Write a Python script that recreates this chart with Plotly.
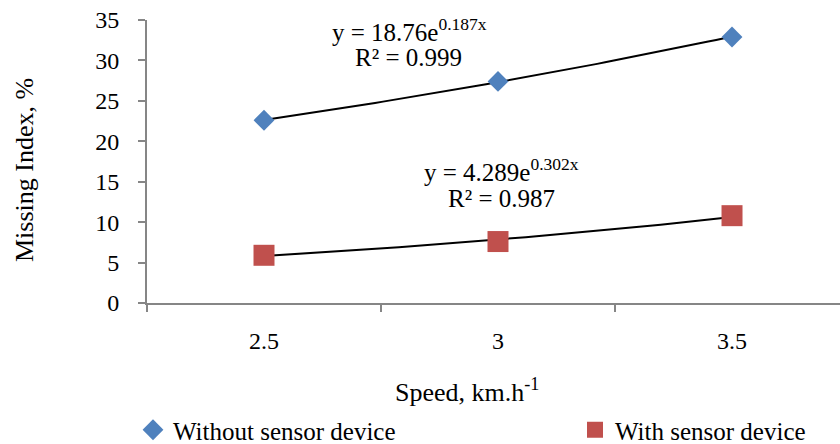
import numpy as np
import plotly.graph_objects as go

speeds = ["2.5", "3", "3.5"]
without_sensor = [22.6, 27.4, 32.9]
with_sensor = [5.9, 7.6, 10.8]
eq_without = ["y = 18.76e<sup>0.187x</sup>", "R² = 0.999"]
eq_with = ["y = 4.289e<sup>0.302x</sup>", "R² = 0.987"]

FONT = "Liberation Serif"
BLUE = "#4F81BD"
RED = "#C0504D"
AXIS = "#868686"

idx = np.arange(len(speeds))  # category positions 0,1,2


def exp_trend(vals):
    n = np.arange(1, len(vals) + 1)
    b, ln_a = np.polyfit(n, np.log(vals), 1)
    t = np.linspace(1, len(vals), 60)
    return t - 1, np.exp(ln_a) * np.exp(b * t)


fig = go.Figure()

for vals in (without_sensor, with_sensor):
    tx, ty = exp_trend(vals)
    fig.add_trace(go.Scatter(x=tx, y=ty, mode="lines",
                             line=dict(color="black", width=2),
                             showlegend=False, hoverinfo="skip"))

fig.add_trace(go.Scatter(x=idx, y=without_sensor, mode="markers",
                         name="Without sensor device", legend="legend",
                         marker=dict(symbol="diamond", size=16, color=BLUE)))
fig.add_trace(go.Scatter(x=idx, y=with_sensor, mode="markers",
                         name="With sensor device", legend="legend2",
                         marker=dict(symbol="square", size=21, color=RED)))

leg_common = dict(orientation="h", xanchor="left", yanchor="middle",
                  font=dict(size=25), itemwidth=30, bgcolor="rgba(0,0,0,0)",
                  xref="paper", yref="paper")

fig.update_layout(
    width=840, height=444,
    margin=dict(l=147, r=0, t=20, b=141, autoexpand=False),
    paper_bgcolor="white", plot_bgcolor="white",
    font=dict(family=FONT, size=24, color="black"),
    showlegend=True,
    legend=dict(x=(133 - 147) / 693, y=(303 - 430) / 283, **leg_common),
    legend2=dict(x=(575 - 147) / 693, y=(303 - 430) / 283, **leg_common),
    xaxis=dict(range=[-0.5, 2.4615], tickmode="array", tickvals=list(idx),
               ticktext=speeds, ticks="", showgrid=False, zeroline=False,
               showline=True, linecolor=AXIS, linewidth=2,
               ticklabelstandoff=15,
               minor=dict(tickmode="array", tickvals=[-0.5, 0.5, 1.5],
                          ticks="outside", ticklen=7, tickcolor=AXIS,
                          tickwidth=2, showgrid=False)),
    yaxis=dict(range=[0, 35], tickmode="linear", tick0=0, dtick=5,
               ticks="outside", ticklen=7, tickcolor=AXIS, tickwidth=2,
               showgrid=False, zeroline=False, showline=True,
               linecolor=AXIS, linewidth=2, ticklabelstandoff=14),
)

annos = [
    dict(x=(409 - 264) / 234, y=(303.3 - 30) / 8.09, text=eq_without[0]),
    dict(x=(408 - 264) / 234, y=(303.3 - 58) / 8.09, text=eq_without[1]),
    dict(x=(501 - 264) / 234, y=(303.3 - 170) / 8.09, text=eq_with[0]),
    dict(x=(501 - 264) / 234, y=(303.3 - 199) / 8.09, text=eq_with[1]),
]
for a in annos:
    fig.add_annotation(x=a["x"], y=a["y"], xref="x", yref="y", text=a["text"],
                       showarrow=False, font=dict(size=25),
                       xanchor="center", yanchor="middle")

fig.add_annotation(x=(24 - 147) / 693, y=(303 - 170) / 283, xref="paper", yref="paper",
                   text="Missing Index, %", textangle=-90, showarrow=False,
                   font=dict(size=26), xanchor="center", yanchor="middle")
fig.add_annotation(x=(467 - 147) / 693, y=(303 - 390) / 283, xref="paper", yref="paper",
                   text="Speed, km.h<sup>-1</sup>", showarrow=False,
                   font=dict(size=26), xanchor="center", yanchor="middle")

fig.write_html("out.html", config={"displayModeBar": False},
               post_script="document.body.style.margin='0';document.body.style.overflow='hidden';")
